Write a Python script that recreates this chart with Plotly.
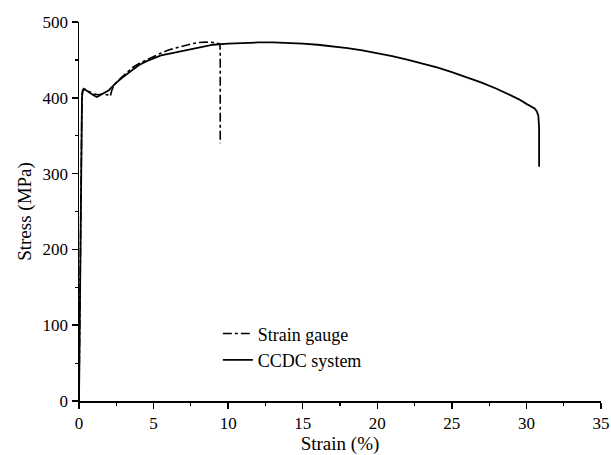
import plotly.graph_objects as go

# CCDC system (solid)
ccdc_strain = [0, 0.05, 0.1, 0.15, 0.2, 0.25, 0.4, 0.6, 0.8, 1.0, 1.2, 1.4, 1.6, 1.8, 2.0, 2.2, 2.5,
               3, 3.5, 4, 4.5, 5, 5.5, 6, 6.5, 7, 7.5, 8, 8.5, 9, 10, 11, 12, 13, 14, 15, 16, 17, 18,
               19, 20, 21, 22, 23, 24, 25, 26, 27, 28, 29, 29.5, 30, 30.3, 30.55, 30.7, 30.8, 30.85, 30.85]
ccdc_stress = [0, 80, 180, 300, 400, 410, 411, 408, 405, 403, 401, 403, 406, 408, 410, 414, 420,
               428, 436, 443, 448, 452, 456, 458, 460, 462, 464, 466, 468, 470, 471.5, 472.5, 473, 473,
               472.5, 471.5, 470, 468, 465.5, 462.5, 459, 455, 450.5, 445.5, 440, 434, 427.5, 420, 412,
               403, 398, 392, 389, 386, 382, 376, 360, 309]

# Strain gauge (dash-dot)
gauge_strain = [0, 0.05, 0.1, 0.15, 0.2, 0.3, 0.5, 0.8, 1.0, 1.3, 1.6, 1.9, 2.1, 2.2, 2.4, 2.8, 3.2,
                3.6, 4, 4.5, 5, 5.5, 6, 6.5, 7, 7.5, 8, 8.5, 9, 9.3, 9.45, 9.47, 9.47]
gauge_stress = [0, 100, 220, 330, 405, 412, 410, 407, 405, 404, 405, 404, 402, 410, 418, 426, 433,
                440, 445, 450, 455, 459, 463, 466, 469, 471, 473, 473.5, 473, 472, 471, 460, 340]

x_ticks = [0, 5, 10, 15, 20, 25, 30, 35]
y_ticks = [0, 100, 200, 300, 400, 500]

font_family = "Liberation Serif"

fig = go.Figure()
fig.add_trace(go.Scatter(x=gauge_strain, y=gauge_stress, mode="lines", name="Strain gauge",
                         line=dict(color="black", width=1.6, dash="dashdot")))
fig.add_trace(go.Scatter(x=ccdc_strain, y=ccdc_stress, mode="lines", name="CCDC system",
                         line=dict(color="black", width=1.8)))

axis_common = dict(showgrid=False, zeroline=False, showline=True, linecolor="black", linewidth=1.5,
                   ticks="outside", ticklen=6, tickwidth=1.5, tickcolor="black", automargin=False,
                   tickfont=dict(family=font_family, size=17, color="black"))

fig.update_xaxes(range=[0, 35], tickvals=x_ticks, ticktext=[str(v) for v in x_ticks],
                 minor=dict(dtick=2.5, ticks="outside", ticklen=3, tickwidth=1.2, tickcolor="black"),
                 title=dict(text="Strain (%)", font=dict(family=font_family, size=19, color="black"),
                            standoff=2),
                 **axis_common)
fig.update_yaxes(range=[0, 500], tickvals=y_ticks, ticktext=[str(v) for v in y_ticks],
                 minor=dict(dtick=50, ticks="outside", ticklen=3, tickwidth=1.2, tickcolor="black"),
                 title=dict(text="Stress (MPa)", font=dict(family=font_family, size=19, color="black"),
                            standoff=6),
                 **axis_common)

fig.update_layout(
    width=611, height=455,
    margin=dict(l=79, r=10, t=22, b=54),
    plot_bgcolor="white", paper_bgcolor="white",
    font=dict(family=font_family, color="black"),
    hovermode=False,
    legend=dict(x=0.266, y=0.226, xanchor="left", yanchor="top",
                font=dict(family=font_family, size=18, color="black"),
                bgcolor="rgba(0,0,0,0)", tracegroupgap=0),
)

fig.write_html("out.html", config={"displayModeBar": False, "staticPlot": True},
               post_script="document.body.style.margin='0';document.body.style.overflow='hidden';")
